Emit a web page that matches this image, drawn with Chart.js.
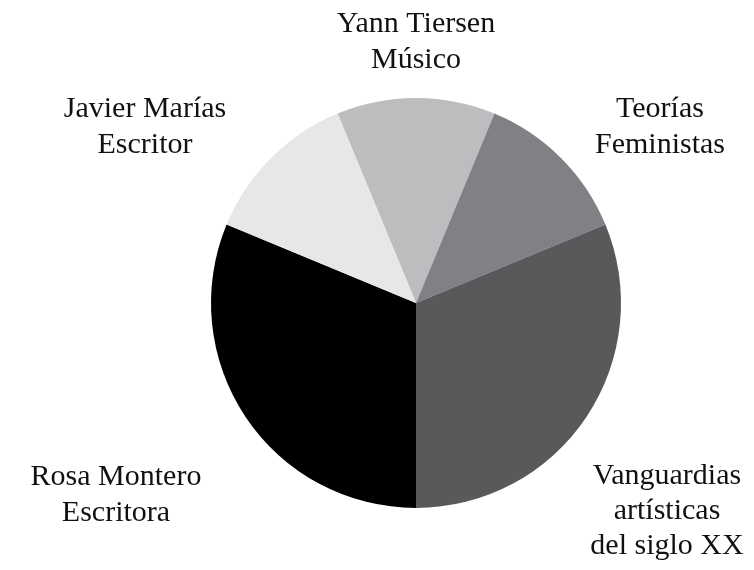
<!DOCTYPE html>
<html>
<head>
<meta charset="utf-8">
<script src="https://cdn.jsdelivr.net/npm/chart.js@4.4.0/dist/chart.umd.min.js"></script>
<style>
  html, body { margin: 0; padding: 0; background: #ffffff; }
  #wrap { width: 754px; height: 570px; position: relative; }
</style>
</head>
<body>
<div id="wrap"><canvas id="c" width="754" height="570"></canvas></div>
<script>
// Data
const categories = [
  ["Yann Tiersen", "Músico"],
  ["Teorías", "Feministas"],
  ["Vanguardias", "artísticas", "del siglo XX"],
  ["Rosa Montero", "Escritora"],
  ["Javier Marías", "Escritor"]
];
const values = [12.5, 12.5, 31.25, 31.25, 12.5];
const colors = ["#bcbdbf", "#808184", "#58595b", "#000000", "#e6e7e8"];

// Label anchors relative to pie centre (first baseline, centred text)
const labelOffsets = [
  [0, -271], [244, -186], [251, 181], [-300, 182], [-271, -186]
];

const labelPlugin = {
  id: 'outerLabels',
  afterDraw(chart) {
    const ctx = chart.ctx;
    const meta = chart.getDatasetMeta(0);
    const arc0 = meta.data[0];
    const cx = arc0.x, cy = arc0.y;
    ctx.save();
    ctx.fillStyle = "#111111";
    ctx.font = "30px 'Liberation Serif', 'DejaVu Serif', serif";
    ctx.textAlign = "center";
    ctx.textBaseline = "alphabetic";
    meta.data.forEach((arc, i) => {
      const lines = categories[i];
      const [dx, dy] = labelOffsets[i];
      const lh = lines.length > 2 ? 35 : 36;
      lines.forEach((t, j) => {
        ctx.fillText(t, cx + dx, cy + dy + j * lh);
      });
    });
    ctx.restore();
  }
};

new Chart(document.getElementById('c'), {
  type: 'pie',
  data: {
    labels: categories.map(l => l.join(' ')),
    datasets: [{
      data: values,
      backgroundColor: colors,
      borderWidth: 0
    }]
  },
  options: {
    responsive: false,
    animation: false,
    rotation: -22.5,
    layout: { padding: { top: 98, bottom: 62, left: 211, right: 133 } },
    plugins: {
      legend: { display: false },
      tooltip: { enabled: false }
    }
  },
  plugins: [labelPlugin]
});
</script>
</body>
</html>
